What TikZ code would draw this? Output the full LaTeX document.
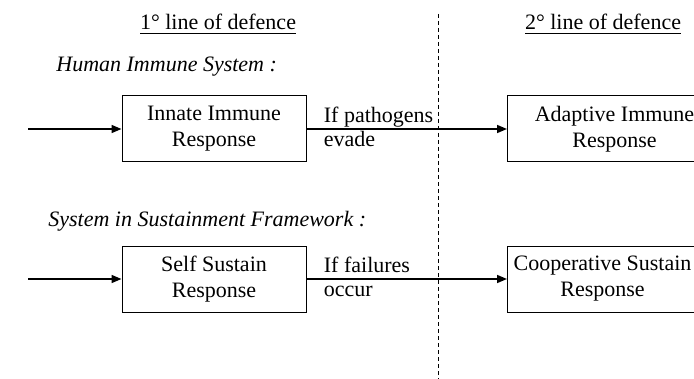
\documentclass[tikz,border=0pt]{standalone}
\usepackage{fontspec}
\setmainfont{Liberation Serif}
\usetikzlibrary{arrows.meta,positioning}

\begin{document}
\begin{tikzpicture}[
  x=0.5pt, y=-0.5pt,
  node distance=8.5pt and 8.5pt,
  font=\fontsize{11}{13}\selectfont,
  box/.style={rectangle, draw, line width=0.5pt, minimum width=92pt,
              minimum height=33pt, align=center, inner sep=0pt},
  widebox/.style={box, minimum width=107pt, anchor=west},
  cond/.style={align=left, inner sep=0pt, yshift=1pt,
               font=\fontsize{11}{12}\selectfont},
  heading/.style={inner sep=0pt, anchor=base},
  system/.style={inner sep=0pt, anchor=base west, font=\fontsize{11}{13}\selectfont\itshape},
  arrow/.style={-{Triangle[length=5pt,width=4pt]}, line width=0.8pt},
  divider/.style={dash pattern=on 2pt off 1.5pt, line width=0.5pt}
]
  \useasboundingbox (0,0) rectangle (694,379);
  \clip (0,0) rectangle (694,379);

  % headings and divider
  \node[heading] (first) at (218,30) {\underline{1° line of defence}};
  \node[heading] (second) at (603,30) {\underline{2° line of defence}};
  \coordinate (divtop) at (438,14);
  \coordinate (divbot) at (438,379);
  \draw[divider] (divtop) -- (divbot);

  % human immune system
  \node[system] (human) at (56,72) {Human Immune System :};
  \node[box] (innate) at (214,129) {Innate Immune\\Response};
  \node[widebox] (adaptive) at (507,129) {Adaptive Immune\\Response};
  \node[cond, right=of innate.east] (evade) {If pathogens\\evade};
  \coordinate (humanin) at (28,129);
  \draw[arrow] (humanin) -- (innate);
  \draw[arrow] (innate) -- (adaptive);

  % sustainment framework
  \node[system] (framework) at (48,226) {System in Sustainment Framework :};
  \node[box] (self) at (214,279) {Self Sustain\\Response};
  \node[widebox, minimum width=95pt] (coop) at (507,279) {Cooperative Sustain\\Response};
  \node[cond, right=of self.east] (occur) {If failures\\occur};
  \coordinate (frameworkin) at (28,279);
  \draw[arrow] (frameworkin) -- (self);
  \draw[arrow] (self) -- (coop);
\end{tikzpicture}
\end{document}
